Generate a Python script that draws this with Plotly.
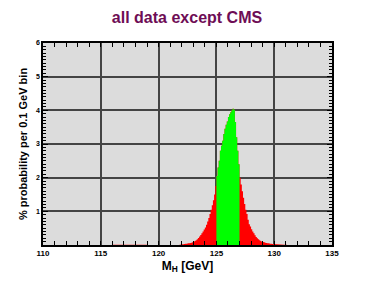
import numpy as np
import plotly.graph_objects as go

# ---- data: % probability per 0.1 GeV bin (bin left edges) ----
main_start = 121.8
main_values = [
    0.01, 0.015, 0.02, 0.025, 0.03, 0.035, 0.04, 0.05, 0.055, 0.06,      # 121.8-122.7
    0.07, 0.085, 0.10, 0.12, 0.14, 0.17, 0.21, 0.25, 0.30, 0.35,         # 122.8-123.7
    0.40, 0.46, 0.52, 0.60, 0.70, 0.80, 0.92, 1.05, 1.18, 1.33,          # 123.8-124.7
    1.50, 1.75, 2.05, 2.30, 2.50, 2.80, 2.95, 3.10, 3.30, 3.45,          # 124.8-125.7
    3.57, 3.67, 3.80, 3.88, 3.94, 4.00, 4.05, 4.02, 3.65, 3.20,          # 125.8-126.7
    2.80, 2.40, 2.00, 1.80, 1.60, 1.40, 1.22, 1.05, 0.92, 0.75,          # 126.8-127.7
    0.62, 0.55, 0.47, 0.40, 0.35, 0.29, 0.24, 0.20, 0.17, 0.14,          # 127.8-128.7
    0.12, 0.10, 0.09, 0.08, 0.07, 0.06, 0.055, 0.05, 0.04, 0.035,        # 128.8-129.7
    0.03, 0.03, 0.025, 0.02, 0.02, 0.018, 0.016, 0.015, 0.012, 0.01,     # 129.8-130.7
    0.008, 0.006, 0.005,                                                  # 130.8-131.0
]
bump_start = 116.0
bump_values = [
    0.008, 0.008, 0.01, 0.012, 0.012, 0.015, 0.015, 0.02, 0.022, 0.025,  # 116.0-116.9
    0.028, 0.03, 0.03, 0.03, 0.03, 0.03, 0.03, 0.03, 0.03, 0.03,         # 117.0-117.9
    0.03, 0.03, 0.028, 0.025, 0.022, 0.02, 0.018, 0.015, 0.012, 0.008,   # 118.0-118.9
]
green_lo, green_hi = 125.0, 127.0
bin_width = 0.1


def step_xy(start, vals):
    """Closed step outline of a histogram (bins of bin_width starting at start)."""
    edges = [start + bin_width * i for i in range(len(vals) + 1)]
    xs, ys = [edges[0]], [0.0]
    for i, v in enumerate(vals):
        xs += [edges[i], edges[i + 1]]
        ys += [v, v]
    xs.append(edges[-1])
    ys.append(0.0)
    return xs, ys


fig = go.Figure()

# red: full distribution
for start, vals in [(bump_start, bump_values), (main_start, main_values)]:
    xs, ys = step_xy(start, vals)
    fig.add_trace(go.Scatter(x=xs, y=ys, mode="lines", line=dict(width=0),
                             fill="toself", fillcolor="#ff0000", hoverinfo="skip",
                             showlegend=False))

# green: 125-127 GeV
g_idx = [i for i in range(len(main_values))
         if green_lo - 1e-6 <= main_start + bin_width * i < green_hi - 1e-6]
g_vals = [main_values[i] for i in g_idx]
g_start = main_start + bin_width * g_idx[0]
xs, ys = step_xy(g_start, g_vals)
fig.add_trace(go.Scatter(x=xs, y=ys, mode="lines", line=dict(width=0),
                         fill="toself", fillcolor="#00ff00", hoverinfo="skip",
                         showlegend=False))

font_family = "Liberation Sans, Arial, sans-serif"

# the page adds an 8px body margin, so the paper is laid out 8px up/left
fig.update_layout(
    width=374, height=289,
    margin=dict(l=35, r=50, t=35, b=52, autoexpand=False),
    paper_bgcolor="white",
    plot_bgcolor="#dcdcdc",
    font=dict(family=font_family, color="black"),
    title=dict(text="<b>all data except CMS</b>", x=179 / 374, xanchor="center",
               y=1 - 9 / 289, yanchor="middle", automargin=False,
               font=dict(size=16, color="#6e0d55", family=font_family)),
    showlegend=False,
)

fig.update_xaxes(
    range=[110, 135], tickmode="linear", tick0=110, dtick=5,
    showgrid=True, gridcolor="#444444", gridwidth=1.5,
    showline=True, linecolor="black", linewidth=1.5, mirror="ticks",
    ticks="inside", ticklen=4, tickcolor="black", tickwidth=1,
    minor=dict(dtick=1, ticks="inside", ticklen=4, tickcolor="black", showgrid=False),
    tickfont=dict(size=8, family=font_family, weight="bold"),
    title=dict(text="<b>M<sub>H</sub> [GeV]</b>", font=dict(size=12, family=font_family), standoff=4),
    zeroline=False, automargin=False,
)
fig.update_yaxes(
    range=[0, 6], tickmode="linear", tick0=0, dtick=1, labelalias={"0": " "},
    showgrid=True, gridcolor="#444444", gridwidth=1.5,
    showline=True, linecolor="black", linewidth=1.5, mirror="ticks",
    ticks="inside", ticklen=5, tickcolor="black", tickwidth=1,
    minor=dict(dtick=0.1, ticks="inside", ticklen=3, tickcolor="black", showgrid=False),
    tickfont=dict(size=7, family=font_family, weight="bold"),
    title=dict(text="<b>% probability per 0.1 GeV bin</b>", font=dict(size=11, family=font_family), standoff=6),
    zeroline=False, automargin=False,
)

fig.write_html("out.html")
